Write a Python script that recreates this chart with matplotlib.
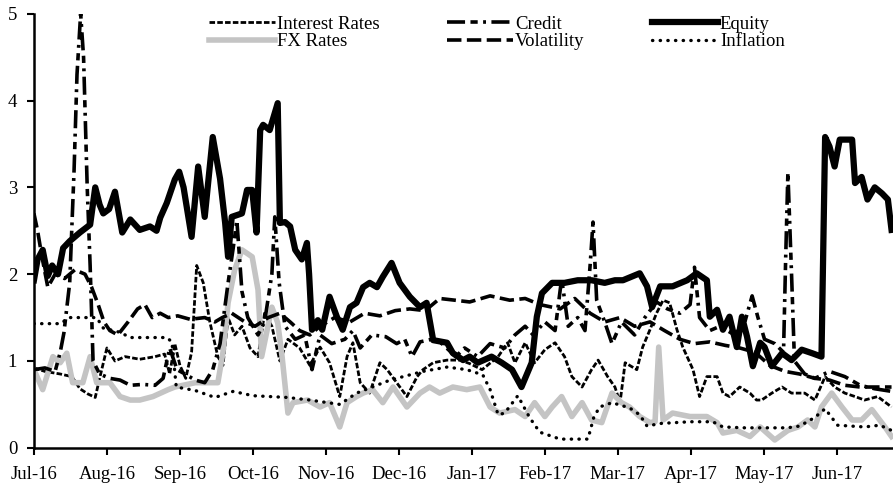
import matplotlib
matplotlib.use('Agg')
import matplotlib.pyplot as plt

plt.rcParams['font.family'] = ['Liberation Serif', 'DejaVu Serif']

months = ["Jul-16", "Aug-16", "Sep-16", "Oct-16", "Nov-16", "Dec-16",
          "Jan-17", "Feb-17", "Mar-17", "Apr-17", "May-17", "Jun-17"]

# time axis: months elapsed since start of Jul-16
ir_t = [0, 0.15, 0.36, 0.52, 0.63, 0.74, 0.84, 0.90, 1.0, 1.11, 1.25, 1.45, 1.66, 1.79,
        1.86, 1.93, 2.0, 2.08, 2.16, 2.23, 2.32, 2.41, 2.52, 2.59, 2.66, 2.75, 2.85, 2.96,
        3.07, 3.16, 3.26, 3.37, 3.48, 3.64, 3.78, 3.92, 4.05, 4.19, 4.29, 4.37, 4.47, 4.60,
        4.74, 4.84, 4.97, 5.11, 5.25, 5.33, 5.47, 5.66, 5.84, 5.97, 6.14, 6.36, 6.49, 6.59,
        6.73, 6.86, 7.0, 7.14, 7.27, 7.37, 7.51, 7.64, 7.73, 7.86, 7.96, 8.03, 8.10, 8.26,
        8.34, 8.44, 8.53, 8.62, 8.71, 8.81, 8.89, 9.03, 9.12, 9.22, 9.36, 9.44, 9.53, 9.67,
        9.81, 9.90, 9.97, 10.11, 10.25, 10.38, 10.56, 10.70, 10.84, 10.97, 11.11, 11.25,
        11.38, 11.56, 11.75]
ir = [0.92, 0.88, 0.85, 0.82, 0.68, 0.62, 0.58, 0.8, 1.15, 1.0, 1.05, 1.02, 1.05, 1.08,
      0.85, 1.2, 0.95, 0.8, 1.1, 2.1, 1.9, 1.45, 1.05, 0.95, 1.5, 1.3, 1.4, 1.15,
      1.05, 1.55, 1.4, 1.0, 1.25, 1.15, 0.95, 1.16, 0.98, 0.59, 1.05, 1.21, 0.75, 0.63,
      0.98, 0.9, 0.75, 0.59, 0.82, 0.9, 0.98, 1.01, 1.01, 0.97, 0.9, 1.05, 1.21, 0.98,
      1.21, 0.98, 1.13, 1.21, 1.05, 0.82, 0.7, 0.9, 1.01, 0.82, 0.7, 0.52, 0.98, 0.9,
      1.16, 1.36, 1.55, 1.7, 1.67, 1.36, 1.16, 0.9, 0.59, 0.82, 0.82, 0.63, 0.59, 0.7,
      0.63, 0.55, 0.55, 0.63, 0.7, 0.63, 0.63, 0.55, 0.82, 0.7, 0.63, 0.59,
      0.55, 0.59, 0.47]

credit_t = [0, 0.15, 0.29, 0.36, 0.41, 0.49, 0.55, 0.59, 0.64, 0.68, 0.73, 0.77, 0.81,
            0.90, 1.04, 1.18, 1.32, 1.49, 1.66, 1.77, 1.86, 1.96, 2.07, 2.21, 2.34, 2.45,
            2.55, 2.66, 2.73, 2.78, 2.85, 2.93, 3.07, 3.16, 3.26, 3.30, 3.36, 3.44, 3.58,
            3.71, 3.81, 3.92, 4.08, 4.26, 4.37, 4.47, 4.63, 4.82, 4.97, 5.08, 5.18, 5.29,
            5.45, 5.59, 5.78, 5.90, 6.08, 6.25, 6.45, 6.59, 6.73, 6.84, 7.0, 7.14, 7.23,
            7.32, 7.45, 7.55, 7.62, 7.66, 7.71, 7.82, 7.92, 8.05, 8.23, 8.37, 8.53, 8.68,
            8.85, 8.99, 9.05, 9.12, 9.26, 9.40, 9.60, 9.74, 9.84, 9.92, 10.01, 10.15,
            10.27, 10.30, 10.33, 10.38, 10.42, 10.56, 10.70, 10.90, 11.11, 11.32, 11.52,
            11.75]
credit = [0.9, 0.92, 0.88, 1.1, 1.32, 1.9, 3.2, 4.3, 5.0, 4.5, 3.0, 2.1, 1.0,
          0.85, 0.8, 0.78, 0.72, 0.73, 0.72, 0.8, 1.15, 0.9, 0.85, 0.78, 0.75, 0.9,
          1.2, 1.9, 2.3, 2.62, 1.8, 1.5, 1.3, 1.45, 2.0, 2.66, 1.9, 1.4, 1.25,
          1.3, 0.9, 1.3, 1.2, 1.25, 1.35, 1.15, 1.3, 1.28, 1.2, 1.25, 1.05, 1.22,
          1.25, 1.2, 1.05, 1.15, 1.05, 1.2, 1.15, 1.3, 1.4, 1.3, 1.45, 1.35, 1.95,
          1.4, 1.5, 1.35, 2.1, 2.6, 1.7, 1.45, 1.2, 1.45, 1.3, 1.5, 1.68, 1.6,
          1.55, 1.65, 2.08, 1.5, 1.35, 1.4, 1.3, 1.45, 1.75, 1.5, 1.25, 1.2,
          1.1, 2.2, 3.17, 2.0, 1.0, 0.85, 0.8, 0.88, 0.82, 0.72, 0.68,
          0.65]

equity_t = [0, 0.05, 0.12, 0.19, 0.25, 0.33, 0.40, 0.49, 0.63, 0.77, 0.84, 0.90, 0.95,
            1.03, 1.11, 1.21, 1.32, 1.45, 1.59, 1.68, 1.73, 1.82, 1.93, 1.99, 2.05, 2.16,
            2.25, 2.34, 2.45, 2.55, 2.62, 2.66, 2.71, 2.85, 2.92, 2.99, 3.05, 3.10, 3.14,
            3.23, 3.34, 3.37, 3.44, 3.51, 3.58, 3.67, 3.74, 3.77, 3.81, 3.89, 3.95, 4.05,
            4.15, 4.23, 4.33, 4.42, 4.51, 4.60, 4.70, 4.78, 4.90, 5.01, 5.15, 5.29, 5.38,
            5.47, 5.66, 5.74, 5.88, 5.97, 6.08, 6.27, 6.41, 6.55, 6.68, 6.82, 6.89, 6.96,
            7.10, 7.27, 7.45, 7.64, 7.82, 7.96, 8.07, 8.30, 8.40, 8.47, 8.58, 8.75, 8.95,
            9.08, 9.22, 9.26, 9.36, 9.44, 9.53, 9.63, 9.70, 9.77, 9.85, 9.95, 10.01, 10.11,
            10.25, 10.38, 10.52, 10.66, 10.79, 10.84, 10.90, 10.97, 11.04, 11.21, 11.25,
            11.34, 11.42, 11.52, 11.62, 11.70, 11.75]
equity = [1.93, 2.17, 2.28, 1.98, 2.1, 2.0, 2.3, 2.38, 2.48, 2.57, 3.0, 2.8, 2.7,
          2.75, 2.95, 2.48, 2.63, 2.51, 2.55, 2.5, 2.65, 2.82, 3.09, 3.18, 3.0, 2.43,
          3.24, 2.66, 3.58, 3.1, 2.59, 2.2, 2.66, 2.7, 2.97, 2.97, 2.48, 3.66, 3.72,
          3.66, 3.97, 2.59, 2.6, 2.55, 2.28, 2.17, 2.36, 2.0, 1.36, 1.47, 1.36, 1.74,
          1.51, 1.36, 1.62, 1.67, 1.85, 1.9, 1.85, 1.97, 2.13, 1.9, 1.74, 1.62, 1.67,
          1.24, 1.21, 1.09, 1.01, 1.05, 0.98, 1.05, 0.98, 0.9, 0.7, 0.98, 1.51, 1.78,
          1.9, 1.9, 1.93, 1.93, 1.9, 1.93, 1.93, 2.01, 1.86, 1.62, 1.86, 1.86, 1.93,
          2.01, 1.93, 1.51, 1.59, 1.36, 1.51, 1.16, 1.51, 1.28, 0.94, 1.21, 1.16, 0.94,
          1.09, 1.01, 1.13, 1.09, 1.05, 3.58, 3.47, 3.24, 3.55, 3.55, 3.05,
          3.12, 2.86, 3.0, 2.93, 2.86, 2.51]

fx_t = [0, 0.12, 0.26, 0.36, 0.45, 0.53, 0.67, 0.77, 0.86, 1.04, 1.18, 1.32, 1.45, 1.63,
        1.84, 1.93, 2.21, 2.52, 2.59, 2.66, 2.75, 2.85, 2.99, 3.07, 3.12, 3.26, 3.34, 3.40,
        3.48, 3.55, 3.75, 3.92, 4.05, 4.19, 4.29, 4.42, 4.51, 4.64, 4.78, 4.92, 5.11, 5.29,
        5.42, 5.56, 5.74, 5.93, 6.11, 6.25, 6.38, 6.59, 6.73, 6.86, 7.0, 7.10, 7.23, 7.37,
        7.51, 7.64, 7.78, 7.92, 8.05, 8.16, 8.30, 8.44, 8.51, 8.56, 8.62, 8.75, 8.99, 9.22,
        9.36, 9.44, 9.63, 9.81, 9.95, 10.15, 10.33, 10.47, 10.60, 10.70, 10.79, 10.93,
        11.07, 11.21, 11.34, 11.48, 11.66, 11.75]
fx = [0.9, 0.67, 1.05, 0.98, 1.09, 0.75, 0.75, 1.05, 0.75, 0.75, 0.59, 0.55, 0.55, 0.59,
      0.67, 0.7, 0.75, 0.75, 1.1, 1.67, 2.05, 2.28, 2.2, 1.82, 1.05, 1.62, 1.44, 1.05,
      0.4, 0.52, 0.55, 0.47, 0.52, 0.24, 0.52, 0.59, 0.63, 0.67, 0.52, 0.7, 0.47, 0.63,
      0.7, 0.63, 0.7, 0.67, 0.7, 0.47, 0.4, 0.44, 0.36, 0.52, 0.36, 0.47, 0.59, 0.36,
      0.52, 0.32, 0.29, 0.63, 0.52, 0.47, 0.36, 0.29, 0.3, 1.16, 0.32, 0.4, 0.36, 0.36,
      0.29, 0.17, 0.2, 0.13, 0.24, 0.09, 0.2, 0.24, 0.32, 0.24, 0.47, 0.63,
      0.47, 0.32, 0.32, 0.44, 0.24, 0.13]

vol_t = [0, 0.05, 0.11, 0.19, 0.29, 0.42, 0.56, 0.70, 0.79, 0.88, 0.96, 1.04, 1.15, 1.29,
         1.42, 1.52, 1.62, 1.73, 1.84, 1.97, 2.14, 2.34, 2.48, 2.58, 2.71, 2.89, 3.03,
         3.21, 3.37, 3.51, 3.64, 3.78, 3.92, 4.12, 4.33, 4.53, 4.74, 4.95, 5.15, 5.36,
         5.56, 5.77, 5.97, 6.25, 6.52, 6.73, 6.93, 7.21, 7.41, 7.62, 7.82, 8.03, 8.23,
         8.44, 8.64, 8.85, 9.05, 9.26, 9.47, 9.67, 9.88, 10.08, 10.29, 10.49, 10.70,
         10.90, 11.11, 11.32, 11.52, 11.75]
vol = [2.7, 2.5, 2.2, 1.85, 2.0, 1.95, 2.05, 2.0, 1.85, 1.65, 1.45, 1.35, 1.3, 1.45,
       1.6, 1.65, 1.5, 1.55, 1.5, 1.52, 1.48, 1.5, 1.45, 1.5, 1.55, 1.45, 1.4,
       1.5, 1.55, 1.45, 1.35, 1.3, 1.4, 1.5, 1.45, 1.55, 1.52, 1.58, 1.6, 1.58,
       1.72, 1.7, 1.68, 1.75, 1.7, 1.72, 1.65, 1.6, 1.72, 1.55, 1.45, 1.5, 1.4,
       1.45, 1.35, 1.25, 1.2, 1.22, 1.18, 1.15, 1.1, 0.95, 0.88, 0.85, 0.8,
       0.78, 0.72, 0.7, 0.7, 0.7]

infl_t = [0, 0.36, 0.49, 0.86, 0.95, 1.18, 1.32, 1.82, 1.89, 1.95, 2.21, 2.48, 2.73, 3.0,
          3.47, 3.78, 4.19, 4.42, 4.88, 5.33, 5.66, 5.93, 6.15, 6.25, 6.36, 6.45, 6.63,
          6.79, 6.93, 7.21, 7.59, 7.67, 7.75, 7.92, 8.16, 8.30, 8.40, 8.58, 8.99, 9.30,
          9.44, 9.74, 10.32, 10.49, 10.70, 10.84, 11.01, 11.38, 11.59, 11.75]
infl = [1.43, 1.43, 1.5, 1.5, 1.38, 1.33, 1.27, 1.27, 1.22, 0.7, 0.66, 0.58, 0.65, 0.6,
        0.58, 0.55, 0.5, 0.63, 0.78, 0.88, 0.93, 0.9, 0.84, 0.67, 0.38, 0.4, 0.6,
        0.35, 0.18, 0.1, 0.1, 0.35, 0.47, 0.52, 0.46, 0.38, 0.25, 0.28, 0.3, 0.3,
        0.24, 0.23, 0.23, 0.25, 0.35, 0.45, 0.26, 0.24, 0.26, 0.2]

fig = plt.figure(figsize=(8.93, 4.91), dpi=100)
ax = fig.add_axes([0.038, 0.088, 0.962, 0.884])

ax.plot(ir_t, ir, color="black", lw=2, linestyle=(0, (2, 0.8)), label="Interest Rates")
ax.plot(fx_t, fx, color="#c4c4c4", lw=4, label="FX Rates", solid_joinstyle="round")
ax.plot(credit_t, credit, color="black", lw=2.6, linestyle=(0, (5, 1.5, 2, 1.5, 0.8, 1.5)),
        label="Credit")
ax.plot(vol_t, vol, color="black", lw=2.6, linestyle=(0, (4, 1.5)), label="Volatility")
ax.plot(equity_t, equity, color="black", lw=4.5, label="Equity", solid_joinstyle="round")
ax.plot(infl_t, infl, color="black", lw=2.4, linestyle=(0, (0.1, 2.2)),
        dash_capstyle="round", label="Inflation")

ax.set_xlim(0, 11.77)
ax.set_ylim(0, 5)
ax.set_xticks(range(len(months)))
ax.set_xticklabels(months)
ax.set_yticks([0, 1, 2, 3, 4, 5])
ax.tick_params(axis="both", labelsize=13.5, length=5, width=1.5, direction="out")
ax.tick_params(axis="x", pad=8)
ax.tick_params(axis="y", pad=7)
for s in ["top", "right"]:
    ax.spines[s].set_visible(False)
for s in ["left", "bottom"]:
    ax.spines[s].set_linewidth(1.8)

ax.legend(loc="upper left", bbox_to_anchor=(0.204, 0.995), ncol=3, frameon=False,
          fontsize=13.5, handlelength=3.5, handletextpad=0.12, columnspacing=3.6,
          labelspacing=0.0, borderpad=0, borderaxespad=0)

fig.savefig("out.png", dpi=100)
